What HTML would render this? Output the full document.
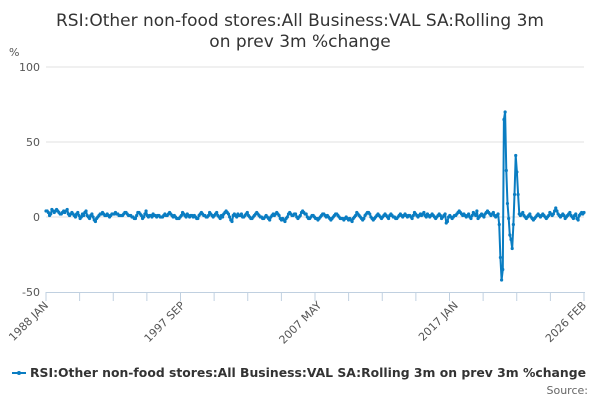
<!DOCTYPE html>
<html><head><meta charset="utf-8"><style>
body{margin:0;background:#fff;width:600px;height:400px;overflow:hidden}
svg text{font-family:"DejaVu Sans","Liberation Sans",sans-serif}
</style></head><body>
<svg id="chart" width="600" height="400">
<text x="300" y="26" text-anchor="middle" font-size="17" fill="#333">RSI:Other non-food stores:All Business:VAL SA:Rolling 3m</text>
<text x="300" y="47" text-anchor="middle" font-size="17" fill="#333">on prev 3m %change</text>
<text x="9" y="56" font-size="11" fill="#555">%</text>
<g id="grid"></g><g id="xaxis"></g><g id="series"></g>
<g>
<line x1="12" y1="373" x2="26" y2="373" stroke="#0a7dc2" stroke-width="2"/>
<circle cx="19" cy="373" r="2" fill="#0a7dc2"/>
<text x="30" y="377" font-size="12" font-weight="bold" fill="#333" textLength="556" lengthAdjust="spacingAndGlyphs">RSI:Other non-food stores:All Business:VAL SA:Rolling 3m on prev 3m %change</text>
</g>
<text x="588" y="394" text-anchor="end" font-size="11" fill="#666">Source:</text>
</svg>
<script>
const yTicks=[100,50,0,-50];
const xTickLabels=["1988 JAN","1997 SEP","2007 MAY","2017 JAN","2026 FEB"];
const xTickIndex=[0,116,232,348,457];
const values=[
4,4,3,1,2,5,4,3,4,5,4,3,
2,2,3,4,3,4,5,2,1,2,3,2,
1,0,2,3,1,-1,0,2,1,3,4,1,
0,-1,1,2,0,-2,-3,-1,0,1,2,2,
3,2,1,1,2,1,0,1,2,2,2,3,
2,2,1,1,1,1,2,3,3,2,1,1,
1,0,0,-1,-1,1,3,3,2,1,-1,0,
2,4,1,0,1,1,0,2,1,1,0,1,
1,0,0,0,1,2,1,1,2,3,2,1,
0,1,0,-1,-1,-1,0,1,3,2,1,0,
2,1,0,1,1,0,1,0,-1,-1,1,2,
3,2,1,1,0,0,1,3,2,1,0,1,
2,3,1,0,-1,1,0,2,3,4,3,2,
0,-2,-3,1,2,1,0,2,1,1,2,0,
0,1,2,3,1,0,-1,-1,0,1,2,3,
2,1,0,0,-1,-1,0,1,0,-1,-2,0,
1,2,1,2,3,2,1,-1,-2,-1,-2,-3,
-1,0,2,3,2,1,1,2,2,0,-1,0,
1,3,4,3,2,2,0,-1,-1,0,1,1,
0,-1,-1,-2,-1,0,1,2,2,1,0,1,
0,-1,-2,-1,0,1,2,2,1,0,-1,-1,
-1,-2,-1,0,-1,-2,-1,-2,-3,-1,0,1,
3,2,1,0,-1,-2,-1,1,2,3,3,2,
0,-1,-2,-1,0,1,2,1,0,-1,0,1,
2,1,0,-1,1,2,1,0,0,-1,-1,0,
1,2,1,0,1,2,1,0,1,1,0,-1,
1,3,2,1,0,1,2,1,2,3,1,0,
2,1,0,1,2,1,0,-1,0,1,2,1,
-1,0,1,2,-4,-3,0,1,0,-1,0,1,
1,2,3,4,3,2,1,2,1,0,1,2,
0,-1,1,3,2,1,4,-1,0,1,2,1,
0,2,3,4,3,2,1,2,3,1,0,1,
2,-5,-27,-42,-35,65,70,31,9,-1,-12,-15,
-21,-5,15,41,30,15,2,1,2,3,1,0,
-1,0,1,2,0,-1,-2,-1,0,1,2,1,
0,1,2,1,0,-1,0,1,3,2,1,2,
4,6,4,2,1,0,1,2,1,-1,0,1,
2,3,1,0,-1,1,2,-1,-2,1,2,3,
2,3];
const NS="http://www.w3.org/2000/svg";
const X0=46,X1=584,Y0=292,Y1=67;
const xs=i=>X0+i*(X1-X0)/(values.length-1);
const ys=v=>Y0-(v+50)*(Y0-Y1)/150;
function mk(t,a,p){const e=document.createElementNS(NS,t);for(const k in a)e.setAttribute(k,a[k]);p.appendChild(e);return e;}
const grid=document.getElementById('grid');
yTicks.forEach(v=>{
  if(v!==-50){const l=mk('line',{x1:X0,x2:X1,y1:ys(v),y2:ys(v),stroke:'#e0e0e0'},grid);
  
  }
  const t=mk('text',{x:40,y:ys(v)+4,'text-anchor':'end','font-size':11,fill:'#555'},grid);
  
  
  t.textContent=v;
});
const xa=document.getElementById('xaxis');
const ax=mk('line',{x1:X0,x2:X1+1,y1:Y0+0.5,y2:Y0+0.5,stroke:'#c0d0e0'},xa);


for(let k=0;k<=16;k++){
  const x=X0+k*(X1-X0)/16*1.0;
  const tk=mk('line',{x1:x,x2:x,y1:Y0,y2:Y0+9,stroke:'#c0d0e0'},xa);
  
  
}
xTickLabels.forEach((s,j)=>{
  const x=xs(xTickIndex[j]);
  const t=mk('text',{x:x+3,y:Y0+14,'text-anchor':'end','font-size':11,fill:'#555',transform:`rotate(-45 ${x+3} ${Y0+14})`},xa);
  
  
  t.textContent=s;
});
const sg=document.getElementById('series');
const pl=mk('polyline',{points:values.map((v,i)=>xs(i).toFixed(1)+','+ys(v).toFixed(1)).join(' '),fill:'none',stroke:'#0a7dc2','stroke-width':2,'stroke-linejoin':'round'},sg);


values.forEach((v,i)=>{
  const c=mk('circle',{cx:xs(i),cy:ys(v),r:1.6,fill:'#0a7dc2'},sg);
  
  
});
</script>
</body></html>
